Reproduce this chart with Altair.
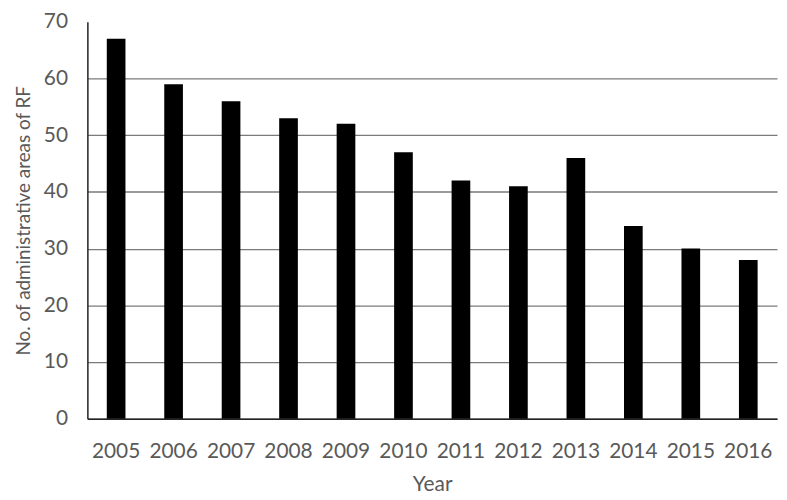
import altair as alt
import pandas as pd

years = ["2005", "2006", "2007", "2008", "2009", "2010", "2011", "2012", "2013", "2014", "2015", "2016"]
counts = [67, 59, 56, 53, 52, 47, 42, 41, 46, 34, 30, 28]

df = pd.DataFrame({"Year": years, "Count": counts})

FONT = "Lato"
GRAY = "#595959"

chart = alt.Chart(df).mark_bar(color="black").encode(
    x=alt.X("Year:N", sort=years,
            scale=alt.Scale(paddingInner=0.675, paddingOuter=0.3375),
            axis=alt.Axis(title="Year", labelAngle=0, ticks=False, labelPadding=22,
                          titlePadding=12, domainColor="#222222", domainWidth=1.5)),
    y=alt.Y("Count:Q", scale=alt.Scale(domain=[0, 70], nice=False),
            axis=alt.Axis(title="No. of administrative areas  of RF", values=[0, 10, 20, 30, 40, 50, 60, 70],
                          ticks=False, labelPadding=20, titlePadding=10, titleFontSize=19,
                          domainColor="#222222", domainWidth=1.5,
                          gridColor="#7a7a7a", gridWidth=1.3,
                          gridOpacity={"condition": {"test": "datum.value >= 70", "value": 0}, "value": 1})),
).properties(
    width=695, height=400,
    autosize=alt.AutoSizeParams(type="none"),
    padding={"left": 80, "top": 12, "right": 2, "bottom": 80},
).configure_view(stroke=None).configure_axis(
    labelFont=FONT, titleFont=FONT, labelFontSize=21, titleFontSize=21,
    labelColor=GRAY, titleColor=GRAY, titleFontWeight="normal",
)

chart.save("out.html", embed_options={"renderer": "svg", "actions": False})
